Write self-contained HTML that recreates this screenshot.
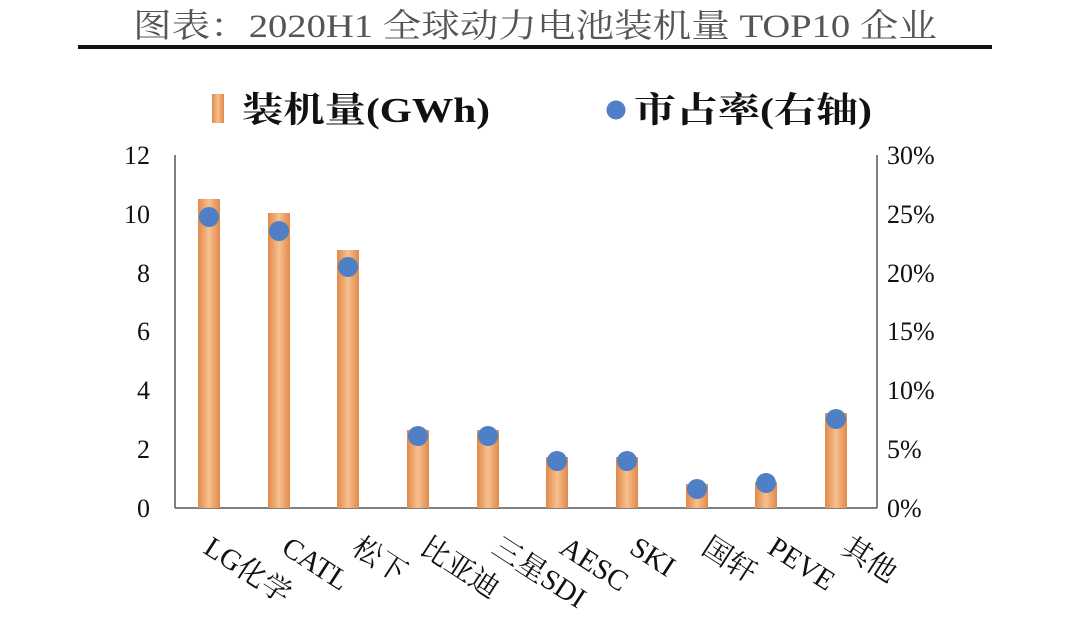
<!DOCTYPE html>
<html><head><meta charset="utf-8"><style>
body{margin:0;background:#fff;}
svg{display:block;}
text{font-family:"Liberation Serif","Noto Serif CJK SC",serif;}
</style></head><body>
<svg width="1080" height="631" viewBox="0 0 1080 631" xmlns="http://www.w3.org/2000/svg">
<defs>
<linearGradient id="g" x1="0" x2="1" y1="0" y2="0">
<stop offset="0" stop-color="#e2884a"/><stop offset="0.5" stop-color="#f6c08e"/><stop offset="1" stop-color="#e2884a"/>
</linearGradient>
</defs>
<text x="133" y="37" font-size="33" fill="#555" textLength="804" lengthAdjust="spacingAndGlyphs">图表：2020H1 全球动力电池装机量 TOP10 企业</text>
<rect x="78" y="45" width="914" height="4" fill="#111"/>
<rect x="212" y="94" width="12" height="29" fill="url(#g)"/>
<text x="242" y="122" font-size="35" font-weight="bold" fill="#111" textLength="248" lengthAdjust="spacingAndGlyphs">装机量(GWh)</text>
<circle cx="616" cy="110" r="9.5" fill="#4f7fc4"/>
<text x="634" y="122" font-size="35" font-weight="bold" fill="#111" textLength="238" lengthAdjust="spacingAndGlyphs">市占率(右轴)</text>
<g stroke="#555" stroke-width="1.5">
<line x1="175" y1="155" x2="175" y2="508"/>
<line x1="877" y1="155" x2="877" y2="508"/>
<line x1="175" y1="508" x2="877" y2="508"/>
</g>
<g font-size="26" fill="#111" text-anchor="end">
<text x="150" y="517">0</text><text x="150" y="458">2</text><text x="150" y="399">4</text><text x="150" y="340">6</text><text x="150" y="282">8</text><text x="150" y="223">10</text><text x="150" y="164">12</text>
</g>
<g font-size="26" fill="#111">
<text x="887" y="517">0%</text><text x="887" y="458">5%</text><text x="887" y="399">10%</text><text x="887" y="340">15%</text><text x="887" y="282">20%</text><text x="887" y="223">25%</text><text x="887" y="164">30%</text>
</g>
<g fill="url(#g)">
<rect x="198" y="199" width="22" height="309"/>
<rect x="268" y="213" width="22" height="295"/>
<rect x="337" y="250" width="22" height="258"/>
<rect x="407" y="430" width="22" height="78"/>
<rect x="477" y="430" width="22" height="78"/>
<rect x="546" y="457" width="22" height="51"/>
<rect x="616" y="457" width="22" height="51"/>
<rect x="686" y="484" width="22" height="24"/>
<rect x="755" y="482" width="22" height="26"/>
<rect x="825" y="413" width="22" height="95"/>
</g>
<g fill="#4f7fc4">
<circle cx="209" cy="217" r="10"/><circle cx="279" cy="231" r="10"/><circle cx="348" cy="267" r="10"/>
<circle cx="418" cy="436" r="10"/><circle cx="488" cy="436" r="10"/><circle cx="557" cy="461" r="10"/>
<circle cx="627" cy="461" r="10"/><circle cx="697" cy="489" r="10"/><circle cx="766" cy="483" r="10"/>
<circle cx="836" cy="419" r="10"/>
</g>
<g font-size="29" fill="#111">
<text transform="translate(202,552) rotate(33)">LG化学</text>
<text transform="translate(280,552) rotate(33)">CATL</text>
<text transform="translate(350,552) rotate(33)">松下</text>
<text transform="translate(418,552) rotate(33)">比亚迪</text>
<text transform="translate(490,552) rotate(33)">三星SDI</text>
<text transform="translate(558,552) rotate(33)">AESC</text>
<text transform="translate(628,552) rotate(33)">SKI</text>
<text transform="translate(700,552) rotate(33)">国轩</text>
<text transform="translate(766,552) rotate(33)">PEVE</text>
<text transform="translate(840,552) rotate(33)">其他</text>
</g>
</svg>
</body></html>
